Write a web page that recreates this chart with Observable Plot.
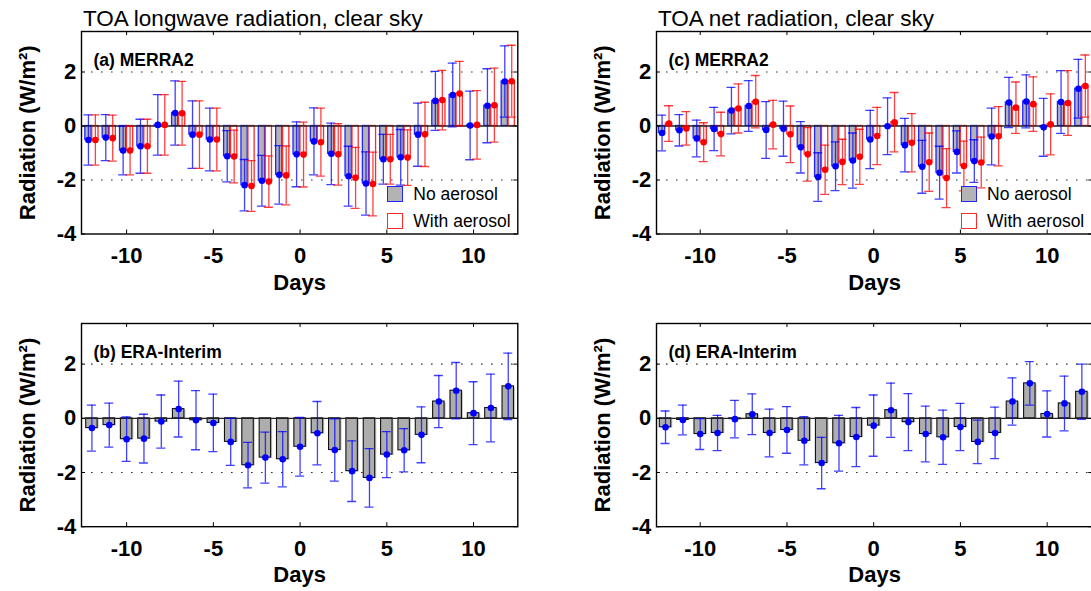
<!DOCTYPE html>
<html><head><meta charset="utf-8">
<script src="https://cdn.jsdelivr.net/npm/d3@7"></script>
<script src="https://cdn.jsdelivr.net/npm/@observablehq/plot@0.6"></script>
<style>
body{margin:0;background:#fff;font-family:"Liberation Sans",Arial,sans-serif;}
#wrap{position:relative;width:1091px;height:591px;overflow:hidden;background:#fff;}
.panel{position:absolute;width:540px;}
.panel svg{max-width:none !important;}
.title{position:absolute;font-size:22.5px;line-height:22.5px;color:#000;white-space:nowrap;}
.leg{position:absolute;font-size:17.5px;line-height:17.5px;color:#000;white-space:nowrap;}
.sw{position:absolute;width:16px;height:16px;box-sizing:border-box;}
</style>
</head><body>
<div id="wrap"></div>
<script>
// ---- data ----
const days = [-12,-11,-10,-9,-8,-7,-6,-5,-4,-3,-2,-1,0,1,2,3,4,5,6,7,8,9,10,11,12];
const xTicks = [-10,-5,0,5,10];
const yTicks = [-4,-2,0,2];
const yGrid = [-2,2];
const titles = ["TOA longwave radiation, clear sky", "TOA net radiation, clear sky"];
const panelLabels = ["(a) MERRA2", "(b) ERA-Interim", "(c) MERRA2", "(d) ERA-Interim"];
const legendLabels = ["No aerosol", "With aerosol"];

// (a) MERRA2 longwave
const aNoAerVal  = [-0.52,-0.43,-0.91,-0.75,0.04,0.48,-0.32,-0.50,-1.12,-2.19,-2.03,-1.81,-1.05,-0.57,-1.03,-1.86,-2.13,-1.23,-1.16,-0.32,0.93,1.15,0.02,0.75,1.65];
const aNoAerErr  = [0.93,0.85,0.90,1.00,1.12,1.19,1.25,1.16,0.95,0.95,0.94,1.08,1.20,1.24,1.14,1.11,1.17,0.92,1.03,1.17,1.09,1.18,1.27,1.37,1.32];
const aAerVal    = [-0.52,-0.45,-0.91,-0.75,0.04,0.47,-0.32,-0.50,-1.13,-2.22,-2.06,-1.83,-1.06,-0.60,-1.05,-1.92,-2.15,-1.23,-1.17,-0.31,0.96,1.20,0.04,0.77,1.66];
const aAerErr    = [0.93,0.85,0.90,1.00,1.12,1.18,1.25,1.16,0.98,0.94,0.95,1.09,1.20,1.26,1.14,1.13,1.18,0.92,1.03,1.19,1.10,1.19,1.27,1.37,1.33];
// (b) ERA-Interim longwave
const bVal = [-0.36,-0.25,-0.77,-0.75,-0.12,0.34,-0.07,-0.17,-0.87,-1.73,-1.45,-1.51,-1.05,-0.55,-1.17,-1.95,-2.20,-1.34,-1.18,-0.61,0.62,1.02,0.19,0.38,1.18];
const bErr = [0.85,0.81,0.82,0.90,0.98,1.03,1.09,1.06,0.87,0.84,0.94,1.02,1.08,1.17,1.15,1.12,1.08,0.85,0.80,1.03,0.96,1.04,1.16,1.25,1.23];
// (c) MERRA2 net
const cNoAerVal = [-0.26,-0.16,-0.46,-0.11,0.57,0.74,-0.15,-0.10,-0.79,-1.89,-1.49,-1.28,-0.50,-0.01,-0.71,-1.51,-1.73,-0.96,-1.30,-0.39,0.87,0.91,-0.05,0.89,1.38];
const cNoAerErr = [0.66,0.58,0.68,0.80,0.86,0.94,1.05,1.02,0.95,0.90,0.90,1.02,1.08,1.05,0.99,0.98,0.98,0.78,0.79,1.05,0.93,0.98,1.07,1.16,1.09];
const cAerVal   = [0.09,-0.09,-0.60,-0.30,0.65,0.90,0.05,-0.31,-1.05,-1.62,-1.33,-1.14,-0.37,0.14,-0.62,-1.34,-1.93,-1.48,-1.35,-0.38,0.68,0.81,0.06,0.85,1.48];
const cAerErr   = [0.66,0.62,0.72,0.81,0.91,0.97,0.90,1.05,0.99,0.91,0.84,1.02,1.06,1.10,1.08,1.08,1.09,0.92,0.94,1.10,0.95,1.01,1.13,1.20,1.15];
// (d) ERA-Interim net
const dVal = [-0.33,-0.06,-0.58,-0.54,-0.03,0.15,-0.54,-0.43,-0.83,-1.65,-0.92,-0.69,-0.27,0.30,-0.14,-0.58,-0.70,-0.32,-0.87,-0.54,0.62,1.29,0.16,0.55,0.98];
const dErr = [0.60,0.55,0.57,0.65,0.69,0.75,0.88,0.86,0.89,0.95,1.03,1.09,1.13,1.00,1.05,1.03,1.00,0.87,0.80,0.95,0.87,0.80,0.85,1.01,1.02];

const FONT = "'Liberation Sans', Arial, Helvetica, sans-serif";
const wrap = document.getElementById("wrap");

function rows(vals, errs) { return days.map((d, i) => ({d, v: vals[i], e: errs[i]})); }

function errMarks(data, off, color, capHalf) {
  return [
    Plot.ruleX(data, {x: r => r.d + off, y1: r => r.v - r.e, y2: r => r.v + r.e, stroke: color, strokeOpacity: 0.75, strokeWidth: 1.3, clip: true}),
    Plot.ruleY(data, {y: r => r.v + r.e, x1: r => r.d + off - capHalf, x2: r => r.d + off + capHalf, stroke: color, strokeOpacity: 0.75, strokeWidth: 1.3, clip: true}),
    Plot.ruleY(data, {y: r => r.v - r.e, x1: r => r.d + off - capHalf, x2: r => r.d + off + capHalf, stroke: color, strokeOpacity: 0.75, strokeWidth: 1.3, clip: true}),
    Plot.dot(data, {x: r => r.d + off, y: "v", r: 3.3, fill: color, stroke: "none", clip: true})
  ];
}

function makePanel(o) {
  const W = 540, mL = 81, mR = 22.7, mT = 31;
  const H = mT + o.fh + 66;
  const fw = W - mL - mR;
  const marks = [Plot.ruleY(yGrid, {stroke: "#333", strokeWidth: 1.2, strokeDasharray: "1.6,8.4"})];
  if (o.pair) {
    const blue = rows(o.bv, o.be), red = rows(o.rv, o.re);
    marks.push(
      Plot.rectY(blue, {x1: r => r.d - 0.38, x2: r => r.d - 0.02, y: "v", fill: "#b3b3b3", stroke: "#2424ff", strokeWidth: 1.3, clip: true}),
      Plot.rectY(red, {x1: r => r.d + 0.02, x2: r => r.d + 0.38, y: "v", fill: "none", stroke: "#ff2a2a", strokeWidth: 1.3, clip: true}),
      Plot.ruleY([0], {stroke: "#222", strokeWidth: 1.3}),
      ...errMarks(blue, -0.2, "#0000ff", 0.26),
      ...errMarks(red, 0.2, "#ff0000", 0.26)
    );
  } else {
    const one = rows(o.v, o.e);
    marks.push(
      Plot.rectY(one, {x1: r => r.d - 0.33, x2: r => r.d + 0.33, y: "v", fill: "#c9c9c9", dx: 1.6, dy: 0.8, clip: true}),
      Plot.rectY(one, {x1: r => r.d - 0.33, x2: r => r.d + 0.33, y: "v", fill: "#adadad", stroke: "#111", strokeWidth: 1.1, clip: true}),
      Plot.ruleY([0], {stroke: "#222", strokeWidth: 1.3}),
      ...errMarks(one, 0, "#0000ff", 0.26)
    );
  }
  marks.push(
    Plot.frame({stroke: "#000", strokeWidth: 1.4}),
    Plot.tickX(xTicks, {x: d => d, insetTop: o.fh - 4, stroke: "#000"}),
    Plot.tickX(xTicks, {x: d => d, insetBottom: o.fh - 4, stroke: "#000"}),
    Plot.tickY(yTicks, {y: d => d, insetRight: fw - 4, stroke: "#000"}),
    Plot.tickY(yTicks, {y: d => d, insetLeft: fw - 4, stroke: "#000"}),
    Plot.axisX(xTicks, {tickSize: 0, tickPadding: 13.5, tickFormat: d => String(d), fontSize: 22, fontWeight: "bold",
      label: "Days", labelAnchor: "center", labelOffset: 55.5, labelArrow: false}),
    Plot.axisY(yTicks, {tickSize: 0, tickPadding: 5.3, tickFormat: d => String(d), fontSize: 22, fontWeight: "bold",
      label: "Radiation (W/m²)", labelAnchor: "center", labelOffset: 62.5, labelArrow: false}),
    Plot.text([o.label], {text: d => d, frameAnchor: "top-left", textAnchor: "start", lineAnchor: "bottom", dx: 12, dy: 34.5, fontSize: 17.5, fontWeight: "bold", fill: "#000"})
  );
  const svg = Plot.plot({
    width: W, height: H, marginLeft: mL, marginRight: mR, marginTop: mT, marginBottom: H - mT - o.fh,
    x: {domain: o.xdom},
    y: {domain: [-4, 3.5]},
    style: {fontFamily: FONT, fontSize: "22px", fontWeight: "bold", color: "#000", background: "transparent", overflow: "visible", maxWidth: "none"},
    marks
  });
  svg.style.maxWidth = "none";
  svg.style.width = W + "px";
  const div = document.createElement("div");
  div.className = "panel";
  div.style.left = o.left + "px";
  div.style.top = o.top + "px";
  div.appendChild(svg);
  wrap.appendChild(div);
}

makePanel({left: 0, top: 0, fh: 202.5, xdom: [-12.6, 12.55], pair: true, bv: aNoAerVal, be: aNoAerErr, rv: aAerVal, re: aAerErr, label: panelLabels[0]});
makePanel({left: 0, top: 292.3, fh: 203.2, xdom: [-12.6, 12.55], pair: false, v: bVal, e: bErr, label: panelLabels[1]});
makePanel({left: 575, top: 0, fh: 202.5, xdom: [-12.52, 12.63], pair: true, bv: cNoAerVal, be: cNoAerErr, rv: cAerVal, re: cAerErr, label: panelLabels[2]});
makePanel({left: 575, top: 292.3, fh: 203.2, xdom: [-12.52, 12.63], pair: false, v: dVal, e: dErr, label: panelLabels[3]});

// titles
[[83, titles[0]], [658, titles[1]]].forEach(([x, t]) => {
  const el = document.createElement("div");
  el.className = "title"; el.textContent = t;
  el.style.left = x + "px"; el.style.top = "7.5px";
  wrap.appendChild(el);
});
// legends (panels a and c)
[0, 573.7].forEach(ox => {
  const items = [
    {fill: "#b3b3b3", stroke: "#2424ff", top: 186, text: legendLabels[0]},
    {fill: "#ffffff", stroke: "#ff2a2a", top: 212.8, text: legendLabels[1]}
  ];
  items.forEach(it => {
    const sw = document.createElement("div");
    sw.className = "sw";
    sw.style.left = (387.3 + ox) + "px"; sw.style.top = it.top + "px";
    sw.style.background = it.fill; sw.style.border = "1.4px solid " + it.stroke;
    wrap.appendChild(sw);
    const tx = document.createElement("div");
    tx.className = "leg"; tx.textContent = it.text;
    tx.style.left = (413.3 + ox) + "px"; tx.style.top = (it.top + 0.3) + "px";
    wrap.appendChild(tx);
  });
});
</script>
</body></html>
